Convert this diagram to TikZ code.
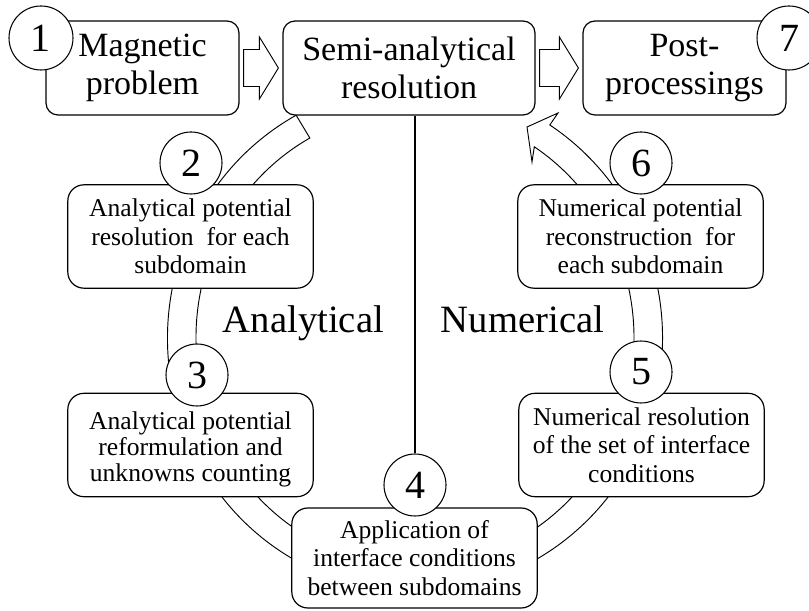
\documentclass[tikz,border=0pt]{standalone}
\usepackage{fontspec}
\setmainfont{Liberation Serif}
\usetikzlibrary{calc}

% hollow block arrow between two top boxes
\newcommand{\hollowarrow}[2]{%
  \draw[hollow] ($(#1.east)+(4,18.5)$) -- ($(#2.west)+(-23,18.5)$)
    -- ($(#2.west)+(-23,31)$) -- ($(#2.west)+(-4,0)$)
    -- ($(#2.west)+(-23,-31)$) -- ($(#2.west)+(-23,-18.5)$)
    -- ($(#1.east)+(4,-18.5)$) -- cycle;}

\begin{document}
\begin{tikzpicture}[x=0.75pt, y=0.75pt,
    topbox/.style={draw, line width=0.9pt, fill=white, rounded corners=9pt,
      align=center, inner sep=0pt, minimum height=70.5pt,
      font=\fontsize{25.5}{28.5}\selectfont},
    stepbox/.style={draw, line width=0.9pt, fill=white, rounded corners=12pt,
      align=center, inner sep=0pt, minimum width=184pt, minimum height=77.5pt,
      font=\fontsize{19.2}{21.2}\selectfont},
    num/.style={draw, circle, line width=0.8pt, fill=white, inner sep=0pt,
      minimum size=46.5pt, font=\fontsize{30}{30}\selectfont},
    hollow/.style={draw, line width=0.7pt, fill=white, line join=miter},
    band/.style={draw, line width=0.7pt, fill=white},
    side/.style={anchor=base, font=\fontsize{29}{30}\selectfont}]
  \useasboundingbox (0,0) rectangle (809,610);

  % the big loop arrow, behind everything
  \coordinate (ctr) at (415,272);
  \coordinate (tip) at (527,483);
  \draw[band] (ctr) ++(118.7:247.5 and 254)
    arc[start angle=118.7, end angle=417, x radius=247.5, y radius=254]
    -- (558,497) -- (tip) -- (532,448)
    -- ($(ctr)+(417:219 and 228)$)
    arc[start angle=417, end angle=118.7, x radius=219, y radius=228] -- cycle;

  % top row
  \node[topbox, minimum width=144.75pt] (mag) at (142.5,542) {Magnetic\\problem};
  \node[topbox, minimum width=189pt] (semi) at (409,542) {Semi-analytical\\resolution};
  \node[topbox, minimum width=152.25pt] (post) at (684.5,542) {Post-\\processings};
  \hollowarrow{mag}{semi}
  \hollowarrow{semi}{post}

  % steps of the loop
  \node[stepbox] (s2) at (190.5,373.5) {Analytical potential\\resolution~ for each\\subdomain};
  \node[stepbox, font=\fontsize{19.2}{19.6}\selectfont] (s3) at (190.5,165)
    {\rule{0pt}{19.5pt}Analytical potential\\reformulation and\\unknowns counting};
  \node[stepbox, minimum height=75pt] (s4) at (414.5,52) {Application of\\interface conditions\\between subdomains};
  \node[stepbox] (s5) at (641.5,165) {Numerical resolution\\of the set of interface\\conditions};
  \node[stepbox] (s6) at (640.5,373.5) {Numerical potential\\reconstruction~ for\\each subdomain};

  % number tags
  \node[num, minimum size=48pt] (n1) at (41,572) {1};
  \node[num] (n2) at (191,447) {2};
  \node[num] (n3) at (197,235) {3};
  \node[num] (n4) at (415,125) {4};
  \node[num] (n5) at (641,238) {5};
  \node[num] (n6) at (641,447) {6};
  \node[num, minimum size=48pt] (n7) at (789,572) {7};

  % separation between both halves
  \draw[line width=1.9pt] (n4.north) -- (n4.north |- semi.south);
  \node[side] (ana) at (303.5,277) {Analytical};
  \node[side] (numl) at (522.5,277) {Numerical};
\end{tikzpicture}
\end{document}
